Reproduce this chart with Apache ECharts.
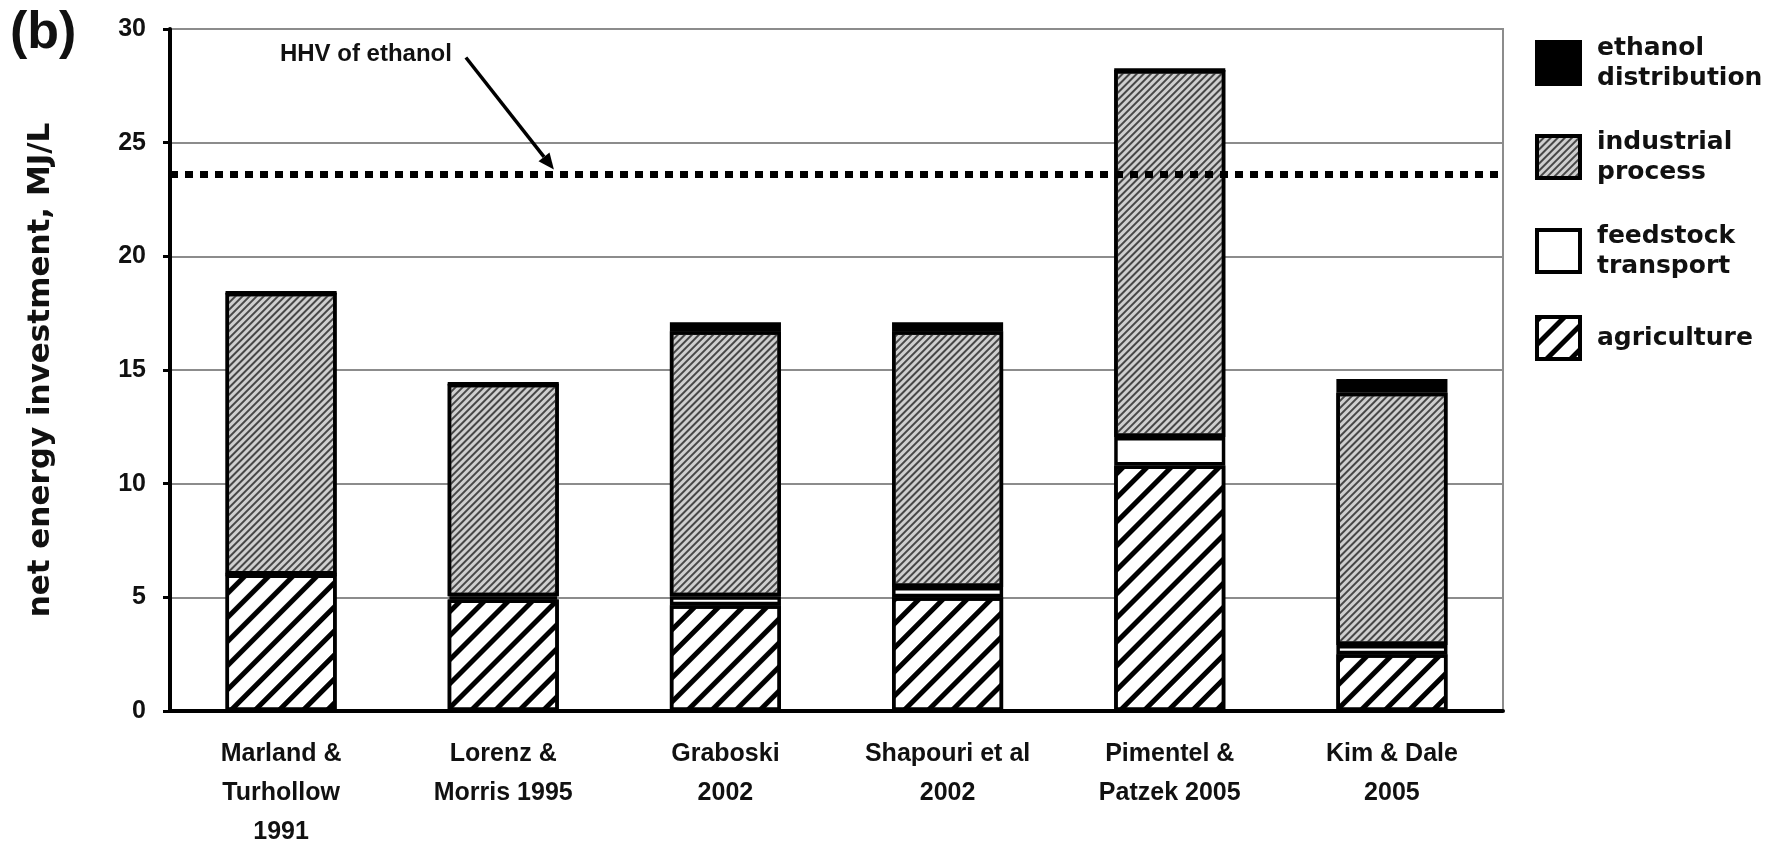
<!DOCTYPE html>
<html>
<head>
<meta charset="utf-8">
<script src="https://cdn.jsdelivr.net/npm/echarts@6/dist/echarts.min.js"></script>
<style>
  html, body { margin: 0; padding: 0; background: #ffffff; }
  #chart { width: 1783px; height: 854px; }
</style>
</head>
<body>
<div id="chart"></div>
<script>
// Net energy investment in corn ethanol by study (MJ per litre)
const categories = [
  'Marland &\nTurhollow\n1991',
  'Lorenz &\nMorris 1995',
  'Graboski\n2002',
  'Shapouri et al\n2002',
  'Pimentel &\nPatzek 2005',
  'Kim & Dale\n2005'
];
const agriculture         = [6.0, 4.9, 4.65, 5.0, 10.8, 2.5];
const feedstockTransport  = [0, 0.15, 0.4, 0.45, 1.25, 0.4];
const industrialProcess   = [12.4, 9.35, 11.65, 11.25, 16.15, 11.1];
const ethanolDistribution = [0, 0, 0.4, 0.4, 0, 0.6];

// Higher heating value of ethanol, MJ/L
const hhvEthanol = 23.6;

// Value axis ticks
const yMin = 0, yMax = 30, yStep = 5;

const legendLabels = {
  'ethanol distribution': 'ethanol\ndistribution',
  'industrial process': 'industrial\nprocess',
  'feedstock transport': 'feedstock\ntransport',
  'agriculture': 'agriculture'
};

const ink = '#111111';
const barBorder = { borderColor: '#000000', borderWidth: 3.5 };

function stripes(color, line, gap) {
  return {
    symbol: 'rect',
    symbolSize: 1,
    dashArrayX: [1, 0],
    dashArrayY: [line, gap],
    rotation: -Math.PI / 4,
    color: color
  };
}

const chart = echarts.init(document.getElementById('chart'), null, { renderer: 'canvas' });

function barSeries(name, data, style) {
  return {
    name: name,
    type: 'bar',
    stack: 'total',
    data: data,
    barWidth: '50%',
    z: 3,
    silent: true,
    emphasis: { disabled: true },
    itemStyle: Object.assign({}, barBorder, style)
  };
}

chart.setOption({
  animation: false,
  backgroundColor: '#ffffff',
  title: {
    text: '(b)',
    left: 5,
    top: 3,
    textStyle: { fontFamily: 'Liberation Sans', fontWeight: 'bold', fontSize: 52, color: ink }
  },
  grid: {
    left: 170, right: 280, top: 29, bottom: 143,
    show: true, borderColor: '#8c8c8c', borderWidth: 2, backgroundColor: 'transparent'
  },
  legend: {
    orient: 'vertical',
    left: 1530,
    top: 28,
    itemWidth: 43,
    itemHeight: 42,
    itemGap: 34,
    icon: 'rect',
    selectedMode: false,
    data: ['ethanol distribution', 'industrial process', 'feedstock transport', 'agriculture'],
    formatter: function (name) { return legendLabels[name]; },
    itemStyle: { borderColor: '#000000', borderWidth: 4 },
    textStyle: {
      fontFamily: 'DejaVu Sans', fontWeight: 'bold', fontSize: 25, lineHeight: 30,
      color: ink, padding: [0, 0, 0, 12]
    }
  },
  xAxis: {
    type: 'category',
    data: categories,
    axisLine: { lineStyle: { color: '#000000', width: 4 } },
    axisTick: { show: false },
    axisLabel: {
      interval: 0,
      margin: 24,
      fontFamily: 'Liberation Sans', fontWeight: 'bold', fontSize: 25, lineHeight: 39,
      color: ink
    }
  },
  yAxis: {
    type: 'value',
    min: yMin, max: yMax, interval: yStep,
    name: 'net energy investment, MJ/L',
    nameLocation: 'middle',
    nameGap: 114,
    nameTextStyle: { fontFamily: 'DejaVu Sans', fontWeight: 'bold', fontSize: 31, color: ink },
    axisLine: { show: true, lineStyle: { color: '#000000', width: 4 } },
    axisTick: { show: true, length: 7, lineStyle: { color: '#000000', width: 3 } },
    splitLine: { lineStyle: { color: '#8c8c8c', width: 2 } },
    axisLabel: {
      margin: 24,
      fontFamily: 'Liberation Sans', fontWeight: 'bold', fontSize: 25, color: ink
    }
  },
  series: [
    {
      name: 'HHV of ethanol',
      type: 'line',
      data: [],
      z: 1,
      silent: true,
      markLine: {
        silent: true,
        symbol: ['none', 'none'],
        label: { show: false },
        lineStyle: { color: '#000000', width: 7, type: [8, 7], cap: 'butt' },
        data: [{ yAxis: hhvEthanol }]
      }
    },
    barSeries('agriculture', agriculture, { color: '#ffffff', decal: stripes('#000000', 5, 12) }),
    barSeries('feedstock transport', feedstockTransport, { color: '#ffffff' }),
    barSeries('industrial process', industrialProcess, { color: '#cfcfcf', decal: stripes('#474747', 1.8, 2.4) }),
    barSeries('ethanol distribution', ethanolDistribution, { color: '#000000' })
  ]
});

// Annotation: label with an arrow pointing at the HHV line
(function () {
  const grid = chart.getModel().getComponent('grid').coordinateSystem.getRect();
  const yLine = chart.convertToPixel({ yAxisIndex: 0 }, hhvEthanol);
  const tip = [grid.x + grid.width * 0.288, yLine - 5];
  const tail = [tip[0] - 88, yLine - 117];
  const ang = Math.atan2(tip[1] - tail[1], tip[0] - tail[0]);
  const headLen = 16, headHalf = 7;
  const base = [tip[0] - headLen * Math.cos(ang), tip[1] - headLen * Math.sin(ang)];
  const px = -Math.sin(ang) * headHalf, py = Math.cos(ang) * headHalf;
  chart.setOption({
    graphic: [
      {
        type: 'text',
        x: tail[0] - 14,
        y: tail[1] - 3,
        style: {
          text: 'HHV of ethanol',
          align: 'right',
          verticalAlign: 'middle',
          fontFamily: 'Liberation Sans', fontWeight: 'bold', fontSize: 24,
          fill: ink
        }
      },
      {
        type: 'line',
        shape: { x1: tail[0], y1: tail[1], x2: base[0], y2: base[1] },
        style: { stroke: '#000000', lineWidth: 3.5 }
      },
      {
        type: 'polygon',
        shape: { points: [tip, [base[0] + px, base[1] + py], [base[0] - px, base[1] - py]] },
        style: { fill: '#000000' }
      }
    ]
  });
})();
</script>
</body>
</html>
